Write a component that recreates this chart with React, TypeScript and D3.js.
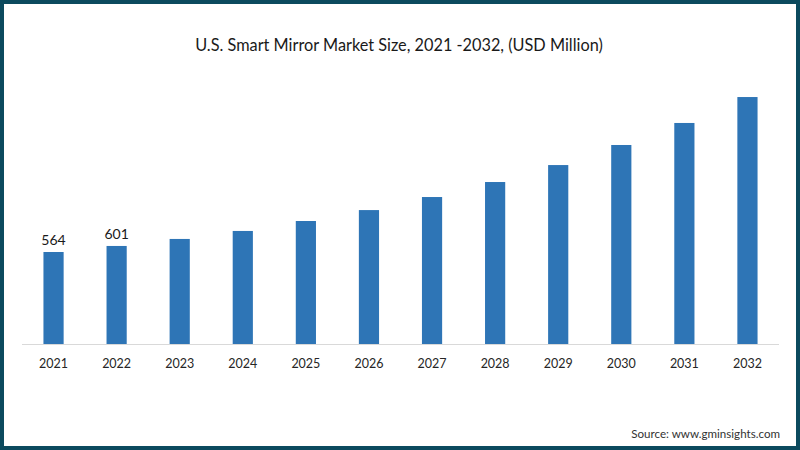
import React from "react";
import * as d3 from "d3";

const years = ["2021","2022","2023","2024","2025","2026","2027","2028","2029","2030","2031","2032"];
const values = [564, 601, 644, 693, 754, 821, 901, 993, 1097, 1220, 1355, 1514];
const labeledYears = ["2021", "2022"];
const title = "U.S. Smart Mirror Market Size, 2021 -2032, (USD Million)";
const source = "Source: www.gminsights.com";

const W = 800, H = 450;
const FONT = "Lato, 'Noto Sans', sans-serif";

export default function App() {
  const x = d3.scaleBand<string>().domain(years).range([22, 779]).paddingInner(0.68).paddingOuter(0.34);
  const y = d3.scaleLinear().domain([0, 564]).range([344, 252]);
  return (
    <svg width={W} height={H} style={{ position: "absolute", left: 0, top: 0, background: "#fff" }}>
      <rect x={0} y={0} width={W} height={H} fill="#fff" />
      <text x={399} y={51} textAnchor="middle" fontFamily={FONT} fontSize={16.3} fill="#1a1a1a">{title}</text>
      {years.map((yr, i) => (
        <rect key={yr} x={x(yr)} y={y(values[i])} width={x.bandwidth()} height={y(0) - y(values[i])} fill="#2e75b6" />
      ))}
      <line x1={22} x2={779} y1={344.5} y2={344.5} stroke="#d9d9d9" strokeWidth={1} />
      {years.map((yr) => (
        <text key={"l" + yr} x={(x(yr) as number) + x.bandwidth() / 2} y={368} textAnchor="middle" fontFamily={FONT} fontSize={12.5} fill="#262626">{yr}</text>
      ))}
      {years.map((yr, i) => labeledYears.includes(yr) ? (
        <text key={"v" + yr} x={(x(yr) as number) + x.bandwidth() / 2} y={y(values[i]) - 7} textAnchor="middle" fontFamily={FONT} fontSize={14} fill="#1a1a1a">{values[i]}</text>
      ) : null)}
      <text x={780} y={438} textAnchor="end" fontFamily={FONT} fontSize={11.6} fill="#333">{source}</text>
      <rect x={2} y={2} width={W - 4} height={H - 4} fill="none" stroke="#0c4a5e" strokeWidth={4} />
    </svg>
  );
}
